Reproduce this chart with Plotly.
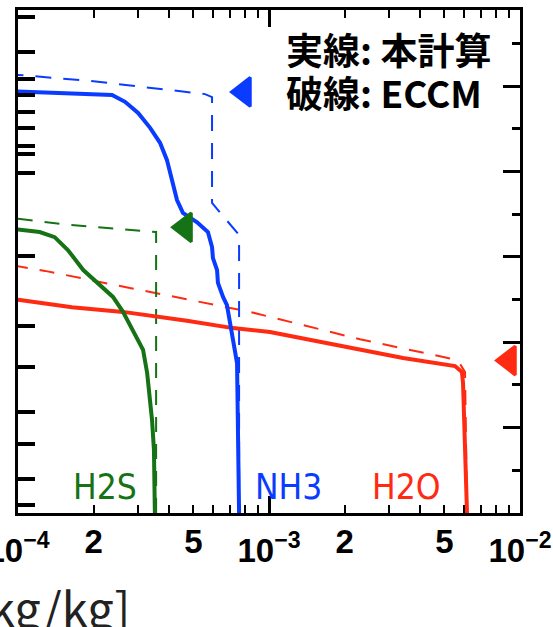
import plotly.graph_objects as go

# Vertical profiles: altitude z [km] against mixing ratio q [kg/kg]
# Solid = this calculation, dashed = ECCM
nh3_calc_q = [7.60e-4, 7.56e-4, 7.49e-4, 7.46e-4, 7.19e-4, 6.99e-4, 6.80e-4, 6.56e-4,
              6.26e-4, 6.21e-4, 5.98e-4, 5.93e-4, 5.71e-4, 5.17e-4, 4.54e-4, 4.30e-4,
              4.11e-4, 3.92e-4, 3.68e-4, 3.36e-4, 3.01e-4, 2.67e-4, 2.37e-4, 1.77e-4,
              1.34e-4, 0.90e-4]
nh3_calc_z = [0, 18.7, 28.1, 35.1, 40.5, 45.2, 48.7, 50.6,
              53.9, 56.9, 59.7, 62.3, 65.8, 68.1, 70.3, 73.3,
              78.0, 82.7, 86.7, 90.2, 93.7, 96.3, 97.9, 98.1,
              98.4, 98.8]

nh3_eccm_q = [7.60e-4, 7.60e-4, 5.93e-4, 5.93e-4, 5.56e-4, 3.36e-4, 1.94e-4, 1.00e-4, 0.89e-4]
nh3_eccm_z = [0, 65.1, 72.6, 97.4, 98.1, 99.5, 101.2, 102.6, 102.9]

h2s_calc_q = [3.51e-4, 3.48e-4, 3.42e-4, 3.36e-4, 3.27e-4, 3.15e-4, 2.87e-4, 2.62e-4,
              2.39e-4, 2.06e-4, 1.82e-4, 1.58e-4, 1.40e-4, 1.22e-4, 1.00e-4, 0.89e-4]
h2s_calc_z = [0, 14.8, 21.8, 27.2, 32.8, 38.2, 42.9, 47.1,
              50.6, 53.9, 56.9, 61.6, 64.6, 65.8, 66.5, 66.7]

h2s_eccm_q = [3.55e-4, 3.55e-4, 2.55e-4, 1.47e-4, 1.00e-4, 0.89e-4]
h2s_eccm_z = [0, 65.8, 66.5, 67.7, 68.9, 69.2]

h2o_calc_q = [6.15e-3, 6.04e-3, 5.93e-3, 5.87e-3, 5.51e-3, 3.42e-3, 1.866e-3, 1.009e-3,
              7.19e-4, 4.71e-4, 2.62e-4, 1.64e-4, 1.018e-4, 0.89e-4]
h2o_calc_z = [0, 17.8, 30.4, 33.0, 34.4, 36.3, 39.3, 42.4,
              43.3, 45.0, 47.1, 48.2, 49.9, 50.4]

h2o_eccm_q = [6.15e-3, 6.10e-3, 6.04e-3, 5.77e-3, 5.36e-3, 2.30e-3, 8.40e-4, 2.79e-4, 1.281e-4, 0.89e-4]
h2o_eccm_z = [0, 17.8, 33.0, 34.9, 36.1, 40.7, 47.1, 52.7, 56.7, 58.3]

# Cloud-base markers (NH3, NH4SH, H2O)
base_q = [7.95e-4, 4.63e-4, 9.04e-3]
base_z = [98.6, 66.9, 35.7]

# Axis ticks
decade_vals = [1e-4, 1e-3, 1e-2]
decade_text = ["10<sup>−4</sup>", "10<sup>−3</sup>", "10<sup>−2</sup>"]
mid_vals = [2e-4, 5e-4, 2e-3, 5e-3]
mid_text = ["2", "5", "2", "5"]
minor_vals = [k * 10.0 ** d for d in (-4, -3) for k in range(2, 10)]
left_ticks = [1.9, 8.0, 16.2, 23.7, 34.2, 43.8, 60.2, 79.6, 84.1, 85.9,
              90.2, 93.9, 97.9, 101.6, 108.0, 116.2]
right_major = [20, 40, 60, 80, 100]
right_minor = [10, 30, 50, 70, 90, 110]
z_range = [0, 117.8]

BLUE = "#0a3cff"
GREEN = "#157315"
RED = "#ff2a12"

fig = go.Figure()

def profile(q, z, color, width, dash):
    fig.add_trace(go.Scatter(x=q, y=z, mode="lines",
                             line=dict(color=color, width=width, dash=dash),
                             showlegend=False, hoverinfo="skip"))

profile(h2o_eccm_q, h2o_eccm_z, RED, 2, "15px,12px")
profile(h2s_eccm_q, h2s_eccm_z, GREEN, 2, "15px,12px")
profile(nh3_eccm_q, nh3_eccm_z, BLUE, 2, "16px,12px")
profile(h2o_calc_q, h2o_calc_z, RED, 4, "solid")
profile(h2s_calc_q, h2s_calc_z, GREEN, 4, "solid")
profile(nh3_calc_q, nh3_calc_z, BLUE, 4, "solid")

fig.add_trace(go.Scatter(
    x=base_q, y=base_z, mode="markers", cliponaxis=False,
    marker=dict(symbol="triangle-left", size=25, color=[BLUE, GREEN, RED],
                line=dict(width=3, color=[BLUE, GREEN, RED])),
    showlegend=False, hoverinfo="skip"))

# empty traces so the overlaid axes are laid out
fig.add_trace(go.Scatter(x=[None], y=[None], yaxis="y2", showlegend=False))
fig.add_trace(go.Scatter(x=[None], y=[None], xaxis="x2", showlegend=False))

tickfont = dict(family="Liberation Sans, Arial, sans-serif", size=33, color="black", weight="bold")

fig.update_layout(
    width=553, height=627,
    margin=dict(l=18, r=33, t=10, b=114, autoexpand=False),
    paper_bgcolor="white", plot_bgcolor="white",
    xaxis=dict(type="log", range=[-4, -2], showgrid=False, zeroline=False,
               automargin=False,
               showline=True, linecolor="black", linewidth=3, mirror="ticks",
               ticks="inside", ticklen=17, tickwidth=3, tickcolor="black",
               tickmode="array", tickvals=decade_vals, ticktext=decade_text,
               tickfont=tickfont, ticklabelstandoff=6, ticklabeloverflow="allow",
               minor=dict(ticks="inside", ticklen=8, tickwidth=2, tickcolor="black",
                          tickmode="array", tickvals=minor_vals, showgrid=False)),
    xaxis2=dict(type="log", range=[-4, -2], overlaying="x", side="bottom", anchor="y",
                automargin=False,
                showgrid=False, zeroline=False, showline=False, ticks="",
                tickmode="array", tickvals=mid_vals, ticktext=mid_text,
                tickfont=tickfont, ticklabelstandoff=6, ticklabeloverflow="allow"),
    yaxis=dict(range=z_range, showgrid=False, zeroline=False, automargin=False,
               showline=True, linecolor="black", linewidth=3,
               ticks="inside", ticklen=17, tickwidth=4, tickcolor="black",
               tickmode="array", tickvals=left_ticks, showticklabels=False),
    yaxis2=dict(range=z_range, overlaying="y", side="right", anchor="x",
                showgrid=False, zeroline=False, automargin=False,
                showline=True, linecolor="black", linewidth=3,
                ticks="inside", ticklen=17, tickwidth=3, tickcolor="black",
                tickmode="array", tickvals=right_major, showticklabels=False,
                minor=dict(ticks="inside", ticklen=8, tickwidth=3, tickcolor="black",
                           tickmode="array", tickvals=right_minor, showgrid=False)),
)

cjk = "Noto Sans CJK JP, sans-serif"
narrow = "Liberation Sans Narrow, DejaVu Sans Condensed, Arial Narrow, sans-serif"
notes = [
    dict(text="実線: 本計算", x=0.530, y=0.9225, xanchor="left", height=40,
         font=dict(family=cjk, size=37, color="black", weight="bold")),
    dict(text="破線: ECCM", x=0.530, y=0.837, xanchor="left", height=40,
         font=dict(family=cjk, size=37, color="black", weight="bold")),
    dict(text="H2S", x=0.1733, y=0.0517, xanchor="center",
         font=dict(family=narrow, size=35, color=GREEN)),
    dict(text="NH3", x=0.538, y=0.0517, xanchor="center",
         font=dict(family=narrow, size=35, color=BLUE)),
    dict(text="H2O", x=0.773, y=0.0517, xanchor="center",
         font=dict(family=narrow, size=35, color=RED)),
    dict(text="[kg/kg]", x=0.227, y=-0.186, xanchor="right",
         font=dict(family=cjk, size=47, color="#222222")),
]
for n in notes:
    fig.add_annotation(xref="paper", yref="paper", yanchor="middle",
                       showarrow=False, **n)

fig.write_html("out.html")
